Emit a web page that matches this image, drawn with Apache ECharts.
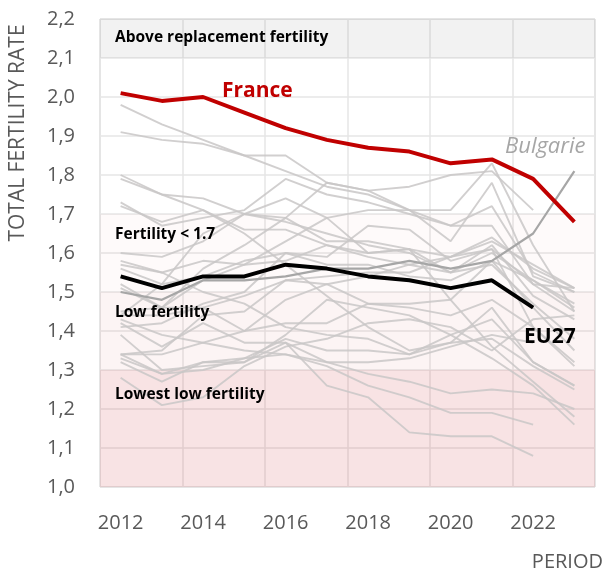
<!DOCTYPE html>
<html>
<head>
<meta charset="utf-8">
<script src="https://cdn.jsdelivr.net/npm/echarts@6/dist/echarts.min.js"></script>
<style>
  html, body { margin: 0; padding: 0; background: #fff; }
  #chart { width: 603px; height: 572px; }
</style>
</head>
<body>
<div id="chart"></div>
<script>
var years = ["2012","2013","2014","2015","2016","2017","2018","2019","2020","2021","2022","2023"];

// highlighted series
var france   = [2.01, 1.99, 2.00, 1.96, 1.92, 1.89, 1.87, 1.86, 1.83, 1.84, 1.79, 1.68];
var eu27     = [1.54, 1.51, 1.54, 1.54, 1.57, 1.56, 1.54, 1.53, 1.51, 1.53, 1.46, null];
var bulgarie = [1.50, 1.48, 1.53, 1.53, 1.54, 1.56, 1.56, 1.58, 1.56, 1.58, 1.65, 1.81];

// other member states (grey)
var belgium     = [1.79, 1.75, 1.74, 1.70, 1.68, 1.65, 1.62, 1.60, 1.55, 1.60, 1.53, 1.47];
var czechia     = [1.45, 1.46, 1.53, 1.57, 1.63, 1.69, 1.71, 1.71, 1.71, 1.83, 1.62, 1.45];
var denmark     = [1.73, 1.67, 1.69, 1.71, 1.79, 1.75, 1.73, 1.70, 1.67, 1.72, 1.55, 1.50];
var germany     = [1.41, 1.42, 1.47, 1.50, 1.60, 1.57, 1.57, 1.54, 1.53, 1.58, 1.46, 1.35];
var estonia     = [1.56, 1.52, 1.54, 1.58, 1.60, 1.59, 1.67, 1.66, 1.58, 1.61, 1.41, 1.31];
var ireland     = [1.98, 1.93, 1.89, 1.85, 1.81, 1.77, 1.75, 1.71, 1.63, 1.78, 1.54, 1.50];
var greece      = [1.34, 1.29, 1.30, 1.33, 1.38, 1.35, 1.35, 1.34, 1.39, 1.43, 1.32, 1.26];
var spain       = [1.32, 1.27, 1.32, 1.33, 1.34, 1.31, 1.26, 1.23, 1.19, 1.19, 1.16, null];
var croatia     = [1.51, 1.46, 1.46, 1.40, 1.42, 1.42, 1.47, 1.47, 1.48, 1.58, 1.53, 1.46];
var italy       = [1.43, 1.39, 1.37, 1.35, 1.34, 1.32, 1.29, 1.27, 1.24, 1.25, 1.24, 1.20];
var cyprus      = [1.39, 1.30, 1.31, 1.32, 1.37, 1.32, 1.32, 1.33, 1.36, 1.39, 1.37, null];
var latvia      = [1.44, 1.52, 1.65, 1.70, 1.74, 1.69, 1.60, 1.61, 1.55, 1.57, 1.47, 1.38];
var lithuania   = [1.60, 1.59, 1.63, 1.70, 1.69, 1.63, 1.63, 1.61, 1.48, 1.36, 1.27, 1.18];
var luxembourg  = [1.57, 1.55, 1.50, 1.47, 1.41, 1.39, 1.38, 1.34, 1.37, 1.38, 1.31, 1.25];
var hungary     = [1.34, 1.35, 1.44, 1.45, 1.53, 1.54, 1.55, 1.55, 1.59, 1.61, 1.52, 1.51];
var malta       = [1.42, 1.36, 1.42, 1.37, 1.37, 1.26, 1.23, 1.14, 1.13, 1.13, 1.08, null];
var netherlands = [1.72, 1.68, 1.71, 1.66, 1.66, 1.62, 1.59, 1.57, 1.55, 1.62, 1.49, 1.43];
var austria     = [1.44, 1.44, 1.46, 1.49, 1.53, 1.52, 1.47, 1.46, 1.44, 1.48, 1.41, 1.32];
var poland      = [1.33, 1.29, 1.32, 1.32, 1.39, 1.48, 1.46, 1.44, 1.39, 1.33, 1.26, 1.16];
var portugal    = [1.28, 1.21, 1.23, 1.31, 1.36, 1.38, 1.42, 1.43, 1.41, 1.35, 1.43, 1.44];
var romania     = [1.52, 1.46, 1.56, 1.62, 1.69, 1.78, 1.76, 1.77, 1.80, 1.81, 1.71, null];
var slovenia    = [1.58, 1.55, 1.58, 1.57, 1.58, 1.62, 1.60, 1.61, 1.59, 1.64, 1.56, 1.51];
var slovakia    = [1.34, 1.34, 1.37, 1.40, 1.48, 1.52, 1.54, 1.57, 1.59, 1.63, 1.57, 1.51];
var finland     = [1.80, 1.75, 1.71, 1.65, 1.57, 1.49, 1.41, 1.35, 1.37, 1.46, 1.32, 1.26];
var sweden      = [1.91, 1.89, 1.88, 1.85, 1.85, 1.78, 1.76, 1.71, 1.67, 1.67, 1.52, 1.45];

var greyLines = [belgium, czechia, denmark, germany, estonia, ireland, greece, spain, croatia,
  italy, cyprus, latvia, lithuania, luxembourg, hungary, malta, netherlands, austria, poland,
  portugal, romania, slovenia, slovakia, finland, sweden];

// fertility zones
var bandNames = ["Above replacement fertility", "Fertility < 1.7", "Low fertility", "Lowest low fertility"];
var bandFrom  = [2.1, 1.5, 1.3, 1.0];
var bandTo    = [2.2, 1.7, 1.5, 1.3];

var FONT = "'Open Sans', sans-serif";
var bandColors = ["rgba(0,0,0,0.05)", "rgba(200,60,60,0.022)", "rgba(200,60,60,0.055)", "rgba(200,40,50,0.13)"];
var bandLabelY = [38, 235, 313, 395];

var zones = bandNames.map(function (n, i) {
  return [
    { yAxis: bandTo[i], itemStyle: { color: bandColors[i] } },
    { yAxis: bandFrom[i] }
  ];
});

var series = [];
greyLines.forEach(function (d, i) {
  var s = {
    type: "line",
    data: d,
    symbol: "none",
    silent: true,
    z: 3,
    lineStyle: { color: "#c9c7c7", width: 1.9, opacity: 0.85 }
  };
  if (i === 0) {
    s.markArea = { silent: true, label: { show: false }, data: zones };
  }
  series.push(s);
});
series.push({
  type: "line", data: bulgarie, symbol: "none", z: 4,
  lineStyle: { color: "#a6a6a6", width: 2.2 }
});
series.push({
  type: "line", data: eu27, symbol: "none", z: 5,
  lineStyle: { color: "#000", width: 4 }
});
series.push({
  type: "line", data: france, symbol: "none", z: 6,
  lineStyle: { color: "#c00000", width: 4 }
});

function label(text, x, y, font, color, align) {
  return {
    type: "text", x: x, y: y, z: 100,
    style: {
      text: text, fill: color, font: font + " " + FONT,
      textAlign: align || "left", textVerticalAlign: "middle"
    }
  };
}

var graphics = [
  label("TOTAL FERTILITY RATE", 18, 133, "21px", "#595959", "center"),
  label("PERIOD", 603, 562, "20px", "#595959", "right"),
  label("France", 222, 91, "bold 21px", "#c00000"),
  label("Bulgarie", 505, 147, "italic 22px", "#a6a6a6"),
  label("EU27", 524, 337, "bold 21px", "#000")
];
graphics[0].rotation = Math.PI / 2;
bandNames.forEach(function (n, i) {
  graphics.push(label(n, 115, bandLabelY[i], "bold 15.5px", "#000"));
});

var chart = echarts.init(document.getElementById("chart"));
chart.setOption({
  animation: false,
  backgroundColor: "#fff",
  grid: {
    left: 100, right: 8, top: 19, bottom: 85,
    show: true, borderColor: "#c4c4c4", borderWidth: 1
  },
  xAxis: {
    type: "category",
    data: years,
    boundaryGap: true,
    axisLine: { show: false },
    axisTick: { show: false },
    axisLabel: {
      interval: 1, margin: 26, color: "#595959",
      fontFamily: FONT, fontSize: 20
    },
    splitLine: { show: true, interval: 1, lineStyle: { color: "#e6e6e6", width: 1.5 } }
  },
  yAxis: {
    type: "value",
    min: 1.0, max: 2.2, interval: 0.1,
    axisLine: { show: false },
    axisTick: { show: false },
    axisLabel: {
      margin: 25, color: "#595959", fontFamily: FONT, fontSize: 20,
      formatter: function (v) { return v.toFixed(1).replace(".", ","); }
    },
    splitLine: { lineStyle: { color: "#e6e6e6", width: 1.5 } }
  },
  graphic: graphics,
  series: series
});
</script>
</body>
</html>
